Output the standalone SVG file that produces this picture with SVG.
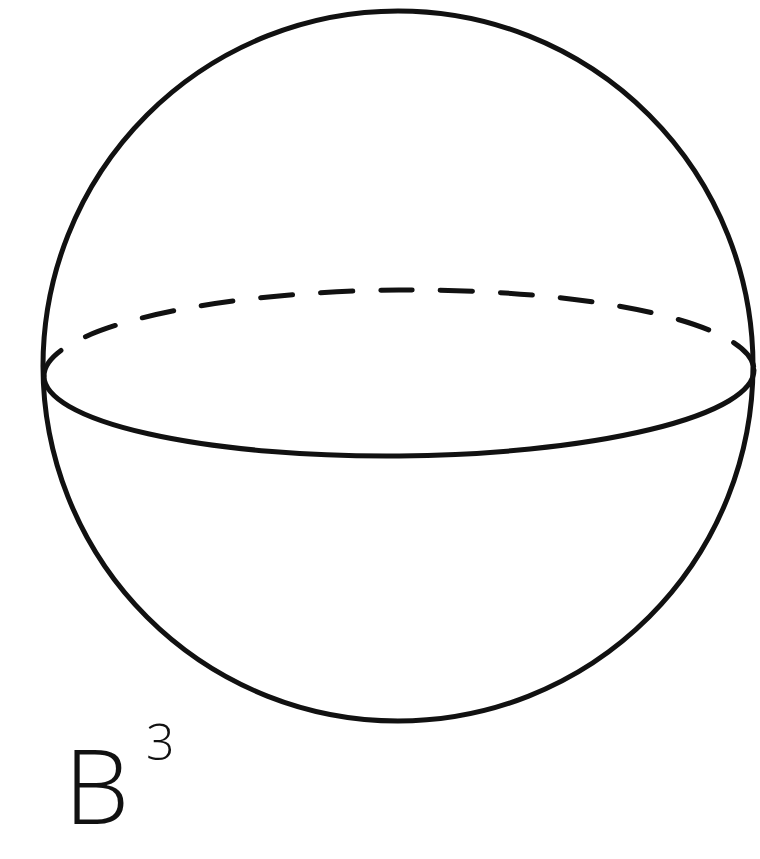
<svg xmlns="http://www.w3.org/2000/svg" width="760" height="859" viewBox="0 0 760 859">
<style>
.ln{fill:none;stroke:#111;stroke-width:5;stroke-linecap:round}
.dash{stroke-dasharray:32 28}
.lbl{font-family:"Open Sans","Liberation Sans",sans-serif;font-weight:300;fill:#111}
</style>
<rect width="760" height="859" fill="#fff"/>
<g id="sphere">
<circle class="ln" cx="398" cy="366" r="355"/>
</g>
<g id="equator">
<path class="ln dash" d="M44,376 A355,83 -0.5 0 1 754,370"/>
<path class="ln" d="M44,376 A355,83 -0.5 0 0 754,370"/>
</g>
<g id="label">
<text class="lbl" x="64" y="824" font-size="104">B</text>
<text class="lbl" x="146" y="760" font-size="50">3</text>
</g>
</svg>
